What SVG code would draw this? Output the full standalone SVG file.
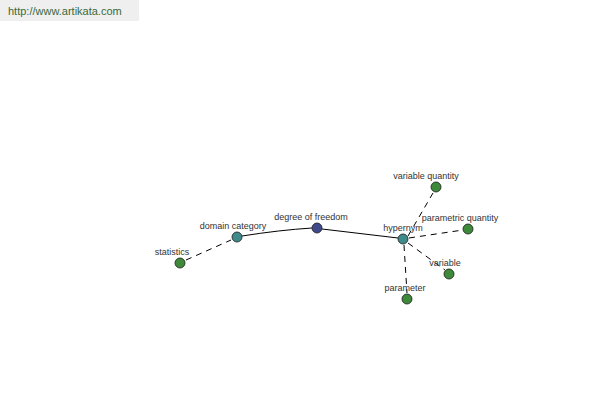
<svg xmlns="http://www.w3.org/2000/svg" width="600" height="400" viewBox="0 0 600 400">
<style>
.lbl{font-family:"Liberation Sans",Arial,sans-serif;font-size:9px;fill:#333;text-anchor:middle}
.n{stroke:#1a1a1a;stroke-width:0.8}
.g{fill:#3f8a3a}.t{fill:#3f8a8a}.b{fill:#3f4a8a}
.e{stroke:#000;stroke-width:1;fill:none}
.d{stroke-dasharray:6,5}
</style>
<rect x="0" y="0" width="139" height="21" fill="#efefef"/>
<text x="8" y="15" font-family="Liberation Sans,Arial,sans-serif" font-size="11" fill="#3a6a3a">http://www.artikata.com</text>
<g id="connectors">
<path class="e d" d="M186,260 L231,240"/>
<path class="e" d="M242,236 Q280,230 312,228"/>
<path class="e" d="M322,229 L398,238"/>
<path class="e d" d="M408,236 L433,193"/>
<path class="e d" d="M409,238 L463,230"/>
<path class="e d" d="M408,243 L445,270"/>
<path class="e d" d="M404,245 L407,293"/>
</g>
<g id="statistics"><circle class="n g" cx="180" cy="263" r="5"/><text class="lbl" x="172" y="255">statistics</text></g>
<g id="domain-category"><circle class="n t" cx="237" cy="237" r="5"/><text class="lbl" x="233" y="229">domain category</text></g>
<g id="degree-of-freedom"><circle class="n b" cx="317" cy="228" r="5"/><text class="lbl" x="311" y="220">degree of freedom</text></g>
<g id="hypernym"><circle class="n t" cx="403" cy="239" r="5"/><text class="lbl" x="403" y="231">hypernym</text></g>
<g id="variable-quantity"><circle class="n g" cx="436" cy="187" r="5"/><text class="lbl" x="426" y="179">variable quantity</text></g>
<g id="parametric-quantity"><circle class="n g" cx="468" cy="229" r="5"/><text class="lbl" x="460" y="221">parametric quantity</text></g>
<g id="variable"><circle class="n g" cx="449" cy="274" r="5"/><text class="lbl" x="445" y="266">variable</text></g>
<g id="parameter"><circle class="n g" cx="407" cy="299" r="5"/><text class="lbl" x="405" y="291">parameter</text></g>
</svg>
